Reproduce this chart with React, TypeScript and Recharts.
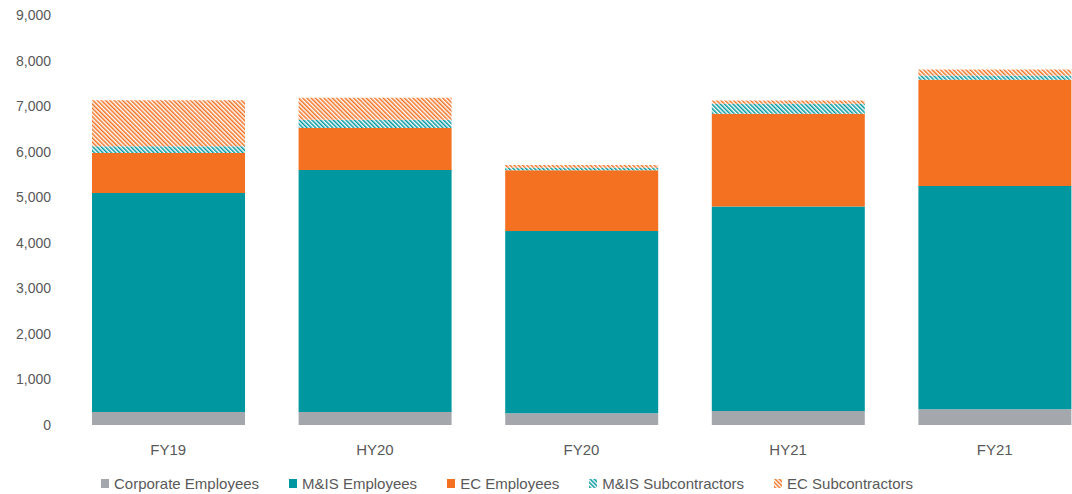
import React from "react";
import { BarChart, Bar, XAxis, YAxis } from "recharts";

const categories = ["FY19", "HY20", "FY20", "HY21", "FY21"];
const corporateEmployees = [285, 285, 256, 307, 344];
const misEmployees = [4809, 5311, 4003, 4487, 4902];
const ecEmployees = [877, 921, 1331, 2039, 2331];
const misSubcontractors = [147, 184, 59, 218, 95];
const ecSubcontractors = [1009, 482, 57, 73, 132];
const yTicks = [0, 1000, 2000, 3000, 4000, 5000, 6000, 7000, 8000, 9000];

const TEAL = "#0097a0";
const ORANGE = "#f37121";
const GRAY = "#a4a8ad";
const TEXT = "#595959";
const FONT = "'Liberation Sans', Arial, sans-serif";

const series = [
  { key: "corporate", name: "Corporate Employees", fill: GRAY, values: corporateEmployees },
  { key: "mis", name: "M&IS Employees", fill: TEAL, values: misEmployees },
  { key: "ec", name: "EC Employees", fill: ORANGE, values: ecEmployees },
  { key: "misSub", name: "M&IS Subcontractors", fill: "url(#hatchTeal)", values: misSubcontractors },
  { key: "ecSub", name: "EC Subcontractors", fill: "url(#hatchOrange)", values: ecSubcontractors },
];

const data = categories.map((cat, i) => {
  const row: Record<string, string | number> = { cat };
  series.forEach((s) => (row[s.key] = s.values[i]));
  return row;
});

function Hatch({ id, color }: { id: string; color: string }) {
  return (
    <pattern id={id} width="3" height="3" patternUnits="userSpaceOnUse" patternTransform="rotate(-45)">
      <rect width="3" height="3" fill="#fff" />
      <rect width="1.5" height="3" fill={color} />
    </pattern>
  );
}

export default function App() {
  return (
    <div
      style={{
        position: "absolute",
        left: 0,
        top: 0,
        width: 1072,
        height: 494,
        overflow: "hidden",
        background: "#fff",
        fontFamily: FONT,
      }}
    >
      <svg width="0" height="0" style={{ position: "absolute" }}>
        <defs>
          <Hatch id="hatchTeal" color={TEAL} />
          <Hatch id="hatchOrange" color={ORANGE} />
        </defs>
      </svg>
      <BarChart
        width={1098}
        height={494}
        data={data}
        margin={{ top: 15, right: 0, left: 0, bottom: 39 }}
      >
        <XAxis
          dataKey="cat"
          axisLine={false}
          tickLine={false}
          tickSize={0}
          tickMargin={19}
          height={30}
          tick={{ fill: TEXT, fontSize: 15, fontFamily: FONT }}
        />
        <YAxis
          width={65}
          domain={[0, 9000]}
          ticks={yTicks}
          axisLine={false}
          tickLine={false}
          tickSize={0}
          tickMargin={14}
          tickFormatter={(v: number) => v.toLocaleString("en-US")}
          tick={{ fill: TEXT, fontSize: 14, fontFamily: FONT }}
        />
        {series.map((s) => (
          <Bar
            key={s.key}
            dataKey={s.key}
            name={s.name}
            stackId="a"
            fill={s.fill}
            barSize={153}
            isAnimationActive={false}
          />
        ))}
      </BarChart>
      <div
        style={{
          position: "absolute",
          left: 101,
          top: 475,
          display: "flex",
          alignItems: "center",
          fontSize: 15,
          color: TEXT,
          whiteSpace: "nowrap",
        }}
      >
        {series.map((s) => (
          <div key={s.key} style={{ display: "flex", alignItems: "center", marginRight: 30 }}>
            <svg width="8" height="9" style={{ marginRight: 5 }}>
              <rect width="8" height="9" fill={s.fill} />
            </svg>
            <span>{s.name}</span>
          </div>
        ))}
      </div>
    </div>
  );
}
